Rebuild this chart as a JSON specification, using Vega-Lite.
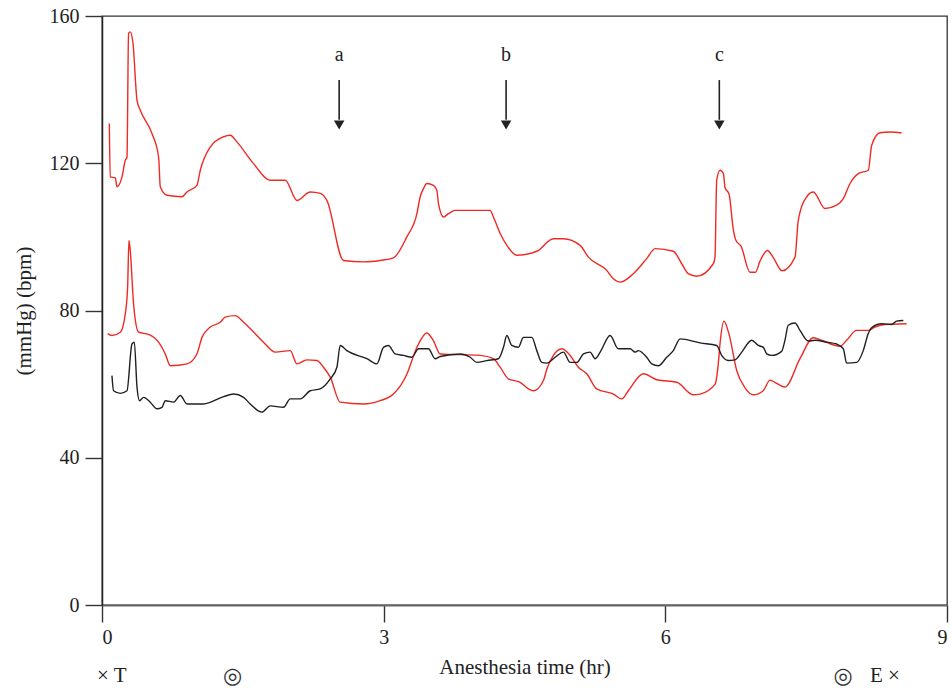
{
  "$schema": "https://vega.github.io/schema/vega-lite/v6.json",
  "width": 845,
  "height": 589,
  "autosize": {"type": "none"},
  "padding": {"left": 102, "top": 16, "right": 5, "bottom": 83},
  "background": "white",
  "config": {
    "view": {"stroke": "#333333", "strokeWidth": 1.3},
    "font": "Liberation Serif",
    "axis": {"labelFont": "Liberation Serif", "titleFont": "Liberation Serif", "grid": false}
  },
  "datasets": {
    "series": [
      {"s":"SBP","t":0.078,"v":130.8},{"s":"SBP","t":0.088,"v":116.3},{"s":"SBP","t":0.142,"v":116},{"s":"SBP","t":0.160,"v":113.6},{"s":"SBP","t":0.213,"v":116.3},{"s":"SBP","t":0.248,"v":120.8},{"s":"SBP","t":0.266,"v":121.7},{"s":"SBP","t":0.283,"v":155.3},{"s":"SBP","t":0.301,"v":155.7},{"s":"SBP","t":0.330,"v":152.6},{"s":"SBP","t":0.373,"v":137.1},{"s":"SBP","t":0.408,"v":134.4},{"s":"SBP","t":0.532,"v":128.1},{"s":"SBP","t":0.603,"v":121.7},{"s":"SBP","t":0.621,"v":113.6},{"s":"SBP","t":0.692,"v":111.3},{"s":"SBP","t":0.852,"v":110.9},{"s":"SBP","t":0.905,"v":112.2},{"s":"SBP","t":1.011,"v":114},{"s":"SBP","t":1.047,"v":118.1},{"s":"SBP","t":1.153,"v":124.4},{"s":"SBP","t":1.295,"v":127.2},{"s":"SBP","t":1.366,"v":127.6},{"s":"SBP","t":1.437,"v":125.8},{"s":"SBP","t":1.614,"v":119.9},{"s":"SBP","t":1.792,"v":115.4},{"s":"SBP","t":1.952,"v":115.4},{"s":"SBP","t":2.076,"v":109.9},{"s":"SBP","t":2.218,"v":112.2},{"s":"SBP","t":2.324,"v":111.8},{"s":"SBP","t":2.395,"v":109.9},{"s":"SBP","t":2.572,"v":93.6},{"s":"SBP","t":2.785,"v":93.2},{"s":"SBP","t":2.963,"v":93.6},{"s":"SBP","t":3.104,"v":94.3},{"s":"SBP","t":3.247,"v":100},{"s":"SBP","t":3.354,"v":106.3},{"s":"SBP","t":3.389,"v":110.9},{"s":"SBP","t":3.424,"v":113.1},{"s":"SBP","t":3.460,"v":114.5},{"s":"SBP","t":3.530,"v":114},{"s":"SBP","t":3.566,"v":112.7},{"s":"SBP","t":3.584,"v":109},{"s":"SBP","t":3.637,"v":105.4},{"s":"SBP","t":3.690,"v":106.3},{"s":"SBP","t":3.761,"v":107.2},{"s":"SBP","t":4.134,"v":107.2},{"s":"SBP","t":4.169,"v":105.4},{"s":"SBP","t":4.241,"v":100.9},{"s":"SBP","t":4.312,"v":97.7},{"s":"SBP","t":4.418,"v":95},{"s":"SBP","t":4.631,"v":96.1},{"s":"SBP","t":4.808,"v":99.5},{"s":"SBP","t":4.914,"v":99.5},{"s":"SBP","t":5.092,"v":97.7},{"s":"SBP","t":5.180,"v":94.5},{"s":"SBP","t":5.376,"v":90.9},{"s":"SBP","t":5.447,"v":88.6},{"s":"SBP","t":5.518,"v":87.7},{"s":"SBP","t":5.660,"v":90},{"s":"SBP","t":5.802,"v":94.1},{"s":"SBP","t":5.891,"v":96.8},{"s":"SBP","t":6.085,"v":96.1},{"s":"SBP","t":6.175,"v":92.7},{"s":"SBP","t":6.245,"v":90},{"s":"SBP","t":6.334,"v":89.3},{"s":"SBP","t":6.511,"v":92.7},{"s":"SBP","t":6.529,"v":94.5},{"s":"SBP","t":6.547,"v":115.4},{"s":"SBP","t":6.583,"v":118.1},{"s":"SBP","t":6.618,"v":117.2},{"s":"SBP","t":6.636,"v":113.4},{"s":"SBP","t":6.679,"v":111.6},{"s":"SBP","t":6.724,"v":102},{"s":"SBP","t":6.753,"v":99},{"s":"SBP","t":6.806,"v":97.5},{"s":"SBP","t":6.902,"v":90.4},{"s":"SBP","t":6.960,"v":90.4},{"s":"SBP","t":7.008,"v":93.4},{"s":"SBP","t":7.088,"v":96.3},{"s":"SBP","t":7.147,"v":94.5},{"s":"SBP","t":7.243,"v":90.8},{"s":"SBP","t":7.381,"v":94.5},{"s":"SBP","t":7.416,"v":104.5},{"s":"SBP","t":7.506,"v":110.9},{"s":"SBP","t":7.576,"v":112.2},{"s":"SBP","t":7.701,"v":107.7},{"s":"SBP","t":7.825,"v":108.6},{"s":"SBP","t":7.896,"v":110.4},{"s":"SBP","t":7.967,"v":114.5},{"s":"SBP","t":8.055,"v":117.2},{"s":"SBP","t":8.162,"v":118.1},{"s":"SBP","t":8.198,"v":124.9},{"s":"SBP","t":8.287,"v":128.3},{"s":"SBP","t":8.393,"v":128.5},{"s":"SBP","t":8.517,"v":128.2},
      {"s":"DBP","t":0.060,"v":73.7},{"s":"DBP","t":0.106,"v":73.2},{"s":"DBP","t":0.195,"v":74.1},{"s":"DBP","t":0.248,"v":79.1},{"s":"DBP","t":0.273,"v":86.4},{"s":"DBP","t":0.287,"v":99},{"s":"DBP","t":0.301,"v":96.3},{"s":"DBP","t":0.336,"v":81.8},{"s":"DBP","t":0.390,"v":74.1},{"s":"DBP","t":0.496,"v":73.5},{"s":"DBP","t":0.603,"v":71.4},{"s":"DBP","t":0.674,"v":68.2},{"s":"DBP","t":0.727,"v":65},{"s":"DBP","t":0.905,"v":65.5},{"s":"DBP","t":1.011,"v":68.2},{"s":"DBP","t":1.065,"v":72.7},{"s":"DBP","t":1.153,"v":75.5},{"s":"DBP","t":1.259,"v":76.8},{"s":"DBP","t":1.313,"v":78.2},{"s":"DBP","t":1.419,"v":78.6},{"s":"DBP","t":1.508,"v":76.8},{"s":"DBP","t":1.650,"v":73.2},{"s":"DBP","t":1.720,"v":71.4},{"s":"DBP","t":1.845,"v":68.7},{"s":"DBP","t":2.005,"v":69.1},{"s":"DBP","t":2.076,"v":65.5},{"s":"DBP","t":2.182,"v":66.6},{"s":"DBP","t":2.289,"v":66.4},{"s":"DBP","t":2.359,"v":64.6},{"s":"DBP","t":2.431,"v":61.9},{"s":"DBP","t":2.537,"v":55.1},{"s":"DBP","t":2.785,"v":54.6},{"s":"DBP","t":2.963,"v":55.5},{"s":"DBP","t":3.104,"v":57.3},{"s":"DBP","t":3.247,"v":62.7},{"s":"DBP","t":3.354,"v":70},{"s":"DBP","t":3.460,"v":73.9},{"s":"DBP","t":3.530,"v":71.8},{"s":"DBP","t":3.602,"v":68.2},{"s":"DBP","t":4.028,"v":67.8},{"s":"DBP","t":4.169,"v":66.9},{"s":"DBP","t":4.241,"v":64.6},{"s":"DBP","t":4.329,"v":61.4},{"s":"DBP","t":4.454,"v":60.5},{"s":"DBP","t":4.542,"v":58.7},{"s":"DBP","t":4.595,"v":58.2},{"s":"DBP","t":4.702,"v":61},{"s":"DBP","t":4.738,"v":64.1},{"s":"DBP","t":4.808,"v":67.8},{"s":"DBP","t":4.897,"v":69.6},{"s":"DBP","t":4.986,"v":67.8},{"s":"DBP","t":5.074,"v":64.6},{"s":"DBP","t":5.163,"v":62.8},{"s":"DBP","t":5.270,"v":58.7},{"s":"DBP","t":5.447,"v":57.3},{"s":"DBP","t":5.536,"v":56},{"s":"DBP","t":5.606,"v":58.2},{"s":"DBP","t":5.766,"v":62.8},{"s":"DBP","t":5.909,"v":61.2},{"s":"DBP","t":6.122,"v":60.5},{"s":"DBP","t":6.298,"v":57.1},{"s":"DBP","t":6.370,"v":57.3},{"s":"DBP","t":6.530,"v":60},{"s":"DBP","t":6.564,"v":65.5},{"s":"DBP","t":6.582,"v":70.9},{"s":"DBP","t":6.625,"v":77.1},{"s":"DBP","t":6.679,"v":73.5},{"s":"DBP","t":6.760,"v":63.7},{"s":"DBP","t":6.849,"v":59},{"s":"DBP","t":6.937,"v":57.1},{"s":"DBP","t":7.043,"v":58.2},{"s":"DBP","t":7.115,"v":61.1},{"s":"DBP","t":7.186,"v":60.2},{"s":"DBP","t":7.274,"v":59.2},{"s":"DBP","t":7.434,"v":66.9},{"s":"DBP","t":7.576,"v":72.6},{"s":"DBP","t":7.647,"v":72.1},{"s":"DBP","t":7.860,"v":70.3},{"s":"DBP","t":7.931,"v":71.9},{"s":"DBP","t":8.038,"v":74.6},{"s":"DBP","t":8.161,"v":74.6},{"s":"DBP","t":8.233,"v":75.5},{"s":"DBP","t":8.339,"v":76.2},{"s":"DBP","t":8.570,"v":76.4},
      {"s":"HR","t":0.106,"v":62.3},{"s":"HR","t":0.123,"v":58.2},{"s":"HR","t":0.195,"v":57.5},{"s":"HR","t":0.266,"v":58.2},{"s":"HR","t":0.319,"v":70.9},{"s":"HR","t":0.344,"v":71.4},{"s":"HR","t":0.373,"v":59.1},{"s":"HR","t":0.400,"v":55.5},{"s":"HR","t":0.443,"v":56.4},{"s":"HR","t":0.514,"v":55.1},{"s":"HR","t":0.586,"v":53.3},{"s":"HR","t":0.639,"v":53.7},{"s":"HR","t":0.674,"v":55.5},{"s":"HR","t":0.762,"v":55.1},{"s":"HR","t":0.834,"v":56.9},{"s":"HR","t":0.905,"v":54.6},{"s":"HR","t":1.082,"v":54.6},{"s":"HR","t":1.295,"v":56.6},{"s":"HR","t":1.401,"v":57.3},{"s":"HR","t":1.508,"v":56.4},{"s":"HR","t":1.579,"v":54.6},{"s":"HR","t":1.703,"v":52.4},{"s":"HR","t":1.792,"v":54.1},{"s":"HR","t":1.933,"v":53.7},{"s":"HR","t":2.005,"v":56},{"s":"HR","t":2.111,"v":56},{"s":"HR","t":2.218,"v":58.2},{"s":"HR","t":2.324,"v":58.7},{"s":"HR","t":2.431,"v":61.4},{"s":"HR","t":2.502,"v":64.6},{"s":"HR","t":2.537,"v":70.5},{"s":"HR","t":2.608,"v":69.1},{"s":"HR","t":2.821,"v":66.9},{"s":"HR","t":2.928,"v":65.5},{"s":"HR","t":2.998,"v":70},{"s":"HR","t":3.051,"v":70.5},{"s":"HR","t":3.123,"v":68.2},{"s":"HR","t":3.211,"v":67.8},{"s":"HR","t":3.300,"v":67.3},{"s":"HR","t":3.371,"v":69.6},{"s":"HR","t":3.477,"v":69.6},{"s":"HR","t":3.548,"v":66.9},{"s":"HR","t":3.602,"v":67.5},{"s":"HR","t":3.815,"v":68.2},{"s":"HR","t":3.922,"v":67.3},{"s":"HR","t":3.992,"v":65.9},{"s":"HR","t":4.099,"v":66.4},{"s":"HR","t":4.222,"v":66.9},{"s":"HR","t":4.276,"v":70},{"s":"HR","t":4.312,"v":73.2},{"s":"HR","t":4.365,"v":70.5},{"s":"HR","t":4.435,"v":70},{"s":"HR","t":4.489,"v":72.7},{"s":"HR","t":4.578,"v":72.7},{"s":"HR","t":4.631,"v":69.1},{"s":"HR","t":4.684,"v":65.9},{"s":"HR","t":4.738,"v":65.7},{"s":"HR","t":4.826,"v":67.3},{"s":"HR","t":4.915,"v":68.7},{"s":"HR","t":4.986,"v":65.9},{"s":"HR","t":5.057,"v":65.9},{"s":"HR","t":5.128,"v":68.2},{"s":"HR","t":5.199,"v":68.7},{"s":"HR","t":5.252,"v":66.9},{"s":"HR","t":5.306,"v":68.7},{"s":"HR","t":5.412,"v":73.2},{"s":"HR","t":5.500,"v":69.6},{"s":"HR","t":5.625,"v":69.6},{"s":"HR","t":5.678,"v":68.7},{"s":"HR","t":5.713,"v":69.1},{"s":"HR","t":5.802,"v":67.3},{"s":"HR","t":5.855,"v":65.5},{"s":"HR","t":5.926,"v":65},{"s":"HR","t":6.015,"v":67.3},{"s":"HR","t":6.085,"v":69.1},{"s":"HR","t":6.157,"v":72.3},{"s":"HR","t":6.370,"v":71.2},{"s":"HR","t":6.547,"v":70.5},{"s":"HR","t":6.600,"v":67.8},{"s":"HR","t":6.670,"v":66.4},{"s":"HR","t":6.742,"v":66.6},{"s":"HR","t":6.814,"v":68.7},{"s":"HR","t":6.920,"v":71.9},{"s":"HR","t":6.991,"v":70.5},{"s":"HR","t":7.044,"v":70},{"s":"HR","t":7.080,"v":68.2},{"s":"HR","t":7.133,"v":67.8},{"s":"HR","t":7.239,"v":68.9},{"s":"HR","t":7.274,"v":71.9},{"s":"HR","t":7.309,"v":76},{"s":"HR","t":7.381,"v":76.6},{"s":"HR","t":7.434,"v":74.6},{"s":"HR","t":7.523,"v":71.7},{"s":"HR","t":7.594,"v":71.9},{"s":"HR","t":7.719,"v":71.4},{"s":"HR","t":7.825,"v":70.9},{"s":"HR","t":7.896,"v":69.6},{"s":"HR","t":7.931,"v":65.7},{"s":"HR","t":8.038,"v":65.9},{"s":"HR","t":8.108,"v":69.1},{"s":"HR","t":8.161,"v":73.7},{"s":"HR","t":8.197,"v":75.3},{"s":"HR","t":8.303,"v":76.4},{"s":"HR","t":8.410,"v":76.2},{"s":"HR","t":8.463,"v":77.1},{"s":"HR","t":8.535,"v":77.3}
    ],
    "arrows": [
      {"label":"a","t":2.526,"ytext":149.4,"ytop":142.6,"ybot":131.8,"yhead":130.4},
      {"label":"b","t":4.304,"ytext":149.4,"ytop":142.6,"ybot":131.8,"yhead":130.4},
      {"label":"c","t":6.575,"ytext":149.4,"ytop":142.6,"ybot":131.8,"yhead":130.4}
    ],
    "notes": [
      {"label":"× T","t":0.104,"y":-19.4},
      {"label":"E ×","t":8.339,"y":-19.4}
    ],
    "circles": [
      {"label":"◎","t":1.392,"y":-19.2},
      {"label":"◎","t":7.892,"y":-19.2}
    ]
  },
  "layer": [
    {
      "data": {"name": "series"},
      "mark": {"type": "line", "strokeWidth": 1.4, "interpolate": "monotone", "clip": false},
      "encoding": {
        "x": {
          "field": "t", "type": "quantitative",
          "scale": {"domain": [0, 9], "nice": false, "zero": false},
          "axis": {
            "values": [0, 3, 6, 9], "format": "d", "title": "Anesthesia time (hr)",
            "domainColor": "#666666", "domainWidth": 2.2,
            "tickColor": "#333333", "tickSize": 17, "tickWidth": 1.4,
            "labelFontSize": 20, "labelColor": "#222222", "labelPadding": 5,
            "titleFontSize": 21, "titleFontWeight": "normal", "titleColor": "#222222", "titlePadding": 9
          }
        },
        "y": {
          "field": "v", "type": "quantitative",
          "scale": {"domain": [0, 160], "nice": false, "zero": false},
          "axis": {
            "values": [0, 40, 80, 120, 160], "title": "(mmHg) (bpm)",
            "domainColor": "#222222", "domainWidth": 1.5,
            "tickColor": "#333333", "tickSize": 17, "tickWidth": 1.4,
            "labelFontSize": 20, "labelColor": "#222222", "labelPadding": 6,
            "titleFontSize": 21, "titleFontWeight": "normal", "titleColor": "#222222", "titlePadding": 15
          }
        },
        "detail": {"field": "s"},
        "color": {
          "field": "s", "type": "nominal",
          "scale": {"domain": ["SBP", "DBP", "HR"], "range": ["#ee2a24", "#ee2a24", "#231f20"]},
          "legend": null
        }
      }
    },
    {
      "data": {"name": "arrows"},
      "mark": {"type": "text", "fontSize": 20, "color": "#222222", "baseline": "middle", "align": "center"},
      "encoding": {
        "x": {"field": "t", "type": "quantitative"},
        "y": {"field": "ytext", "type": "quantitative"},
        "text": {"field": "label"}
      }
    },
    {
      "data": {"name": "arrows"},
      "mark": {"type": "rule", "color": "#222222", "strokeWidth": 1.6},
      "encoding": {
        "x": {"field": "t", "type": "quantitative"},
        "y": {"field": "ytop", "type": "quantitative"},
        "y2": {"field": "ybot"}
      }
    },
    {
      "data": {"name": "arrows"},
      "mark": {"type": "point", "shape": "triangle-down", "filled": true, "size": 110, "color": "#222222", "opacity": 1},
      "encoding": {
        "x": {"field": "t", "type": "quantitative"},
        "y": {"field": "yhead", "type": "quantitative"}
      }
    },
    {
      "data": {"name": "notes"},
      "mark": {"type": "text", "fontSize": 21, "color": "#222222", "baseline": "middle", "align": "center", "clip": false, "font": "Liberation Serif"},
      "encoding": {
        "x": {"field": "t", "type": "quantitative"},
        "y": {"field": "y", "type": "quantitative"},
        "text": {"field": "label"}
      }
    },
    {
      "data": {"name": "circles"},
      "mark": {"type": "text", "fontSize": 22, "color": "#333333", "baseline": "middle", "align": "center", "clip": false, "font": "DejaVu Sans"},
      "encoding": {
        "x": {"field": "t", "type": "quantitative"},
        "y": {"field": "y", "type": "quantitative"},
        "text": {"field": "label"}
      }
    }
  ]
}
